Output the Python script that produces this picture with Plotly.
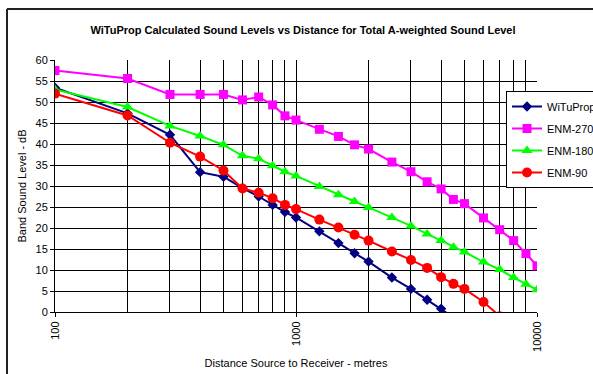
import plotly.graph_objects as go

# ---- data ----
distance = [100, 200, 300, 400, 500, 600, 700, 800, 900, 1000, 1250, 1500, 1750, 2000,
            2500, 3000, 3500, 4000, 4500, 5000, 6000, 7000, 8000, 9000, 10000]

witu_prop = [53.4, 47.3, 42.2, 33.3, 32.2, 29.5, 27.5, 25.5, 23.8, 22.5, 19.2, 16.4, 14.0, 12.0,
             8.2, 5.5, 2.9, 0.8, -1.3]
enm_270 = [57.5, 55.6, 51.8, 51.8, 51.8, 50.5, 51.2, 49.3, 46.7, 45.7, 43.5, 41.8, 39.8, 38.8,
           35.7, 33.4, 31.0, 29.3, 26.8, 25.8, 22.4, 19.6, 17.0, 13.9, 11.0]
enm_180 = [53.0, 48.8, 44.3, 41.9, 39.8, 37.2, 36.5, 34.8, 33.4, 32.4, 29.9, 27.9, 26.3, 24.9,
           22.5, 20.5, 18.6, 17.0, 15.4, 14.3, 11.9, 10.1, 8.2, 6.6, 5.3]
enm_90 = [52.0, 46.8, 40.3, 37.0, 33.7, 29.4, 28.4, 27.1, 25.5, 24.5, 22.0, 20.1, 18.4, 17.0,
          14.4, 12.4, 10.5, 8.3, 6.7, 5.5, 2.4, -1.0]

series_names = ["WiTuProp", "ENM-270", "ENM-180", "ENM-90"]
x_tick_values = [100, 1000, 10000]
x_tick_labels = ["100", "1000", "10000"]

title_text = "WiTuProp Calculated Sound Levels vs Distance for Total A-weighted Sound Level"
x_title = "Distance Source to Receiver - metres"
y_title = "Band Sound Level - dB"

FONT = "Arial, 'Liberation Sans', sans-serif"

styles = [
    dict(color="#000080", symbol="diamond", size=8),
    dict(color="#FF00FF", symbol="square", size=9),
    dict(color="#00FF00", symbol="triangle-up", size=10),
    dict(color="#FF0000", symbol="circle", size=10),
]
values = [witu_prop, enm_270, enm_180, enm_90]

fig = go.Figure()
for name, vals, st in zip(series_names, values, styles):
    fig.add_trace(go.Scatter(
        x=distance[:len(vals)], y=vals, name=name, mode="lines+markers",
        legendgroup=name,
        line=dict(color=st["color"], width=2),
        marker=dict(color=st["color"], symbol=st["symbol"], size=st["size"],
                    line=dict(width=0)),
    ))

fig.update_layout(
    width=593, height=374,
    margin=dict(l=55, r=56, t=60, b=62, autoexpand=False),
    paper_bgcolor="white", plot_bgcolor="white",
    font=dict(family=FONT, size=11, color="black"),
    title=dict(text="<b>" + title_text + "</b>", x=303 / 593, xanchor="center",
               y=1 - 30 / 374, yanchor="middle", font=dict(size=11, family=FONT)),
    showlegend=True,
    legend=dict(x=(506 - 55) / 482, xanchor="left", y=(312 - 91) / 252, yanchor="top",
                bgcolor="white", bordercolor="black", borderwidth=1,
                font=dict(size=11, family=FONT), tracegroupgap=3,
                itemwidth=30),
)

fig.update_xaxes(
    type="log", range=[2, 4],
    tickvals=x_tick_values, ticktext=x_tick_labels, tickangle=-90,
    ticks="outside", ticklen=4, tickcolor="black",
    showline=True, linecolor="black", linewidth=1,
    showgrid=True, gridcolor="black", gridwidth=1,
    minor=dict(dtick="D1", showgrid=True, gridcolor="black", gridwidth=1, ticks=""),
    zeroline=False,
    title=dict(text=x_title, standoff=8, font=dict(size=11)),
    tickfont=dict(size=11),
)
fig.update_yaxes(
    range=[0, 60], dtick=5,
    ticks="outside", ticklen=4, tickcolor="black",
    showline=True, linecolor="black", linewidth=1,
    showgrid=True, gridcolor="black", gridwidth=1,
    zeroline=False,
    title=dict(text=y_title, standoff=6, font=dict(size=11)),
    tickfont=dict(size=11),
)

# outer chart frame (cropped Excel chart border): left and top edges
fig.add_shape(type="line", xref="paper", yref="paper",
              x0=(7 - 55) / 482, x1=(7 - 55) / 482, y0=(312 - 9) / 252, y1=(312 - 380) / 252,
              line=dict(color="#222222", width=2))
fig.add_shape(type="line", xref="paper", yref="paper",
              x0=(7 - 55) / 482, x1=(600 - 55) / 482, y0=(312 - 9) / 252, y1=(312 - 9) / 252,
              line=dict(color="#222222", width=2))

fig.write_html("out.html", config={"displayModeBar": False},
               post_script="document.body.style.margin='0';")
